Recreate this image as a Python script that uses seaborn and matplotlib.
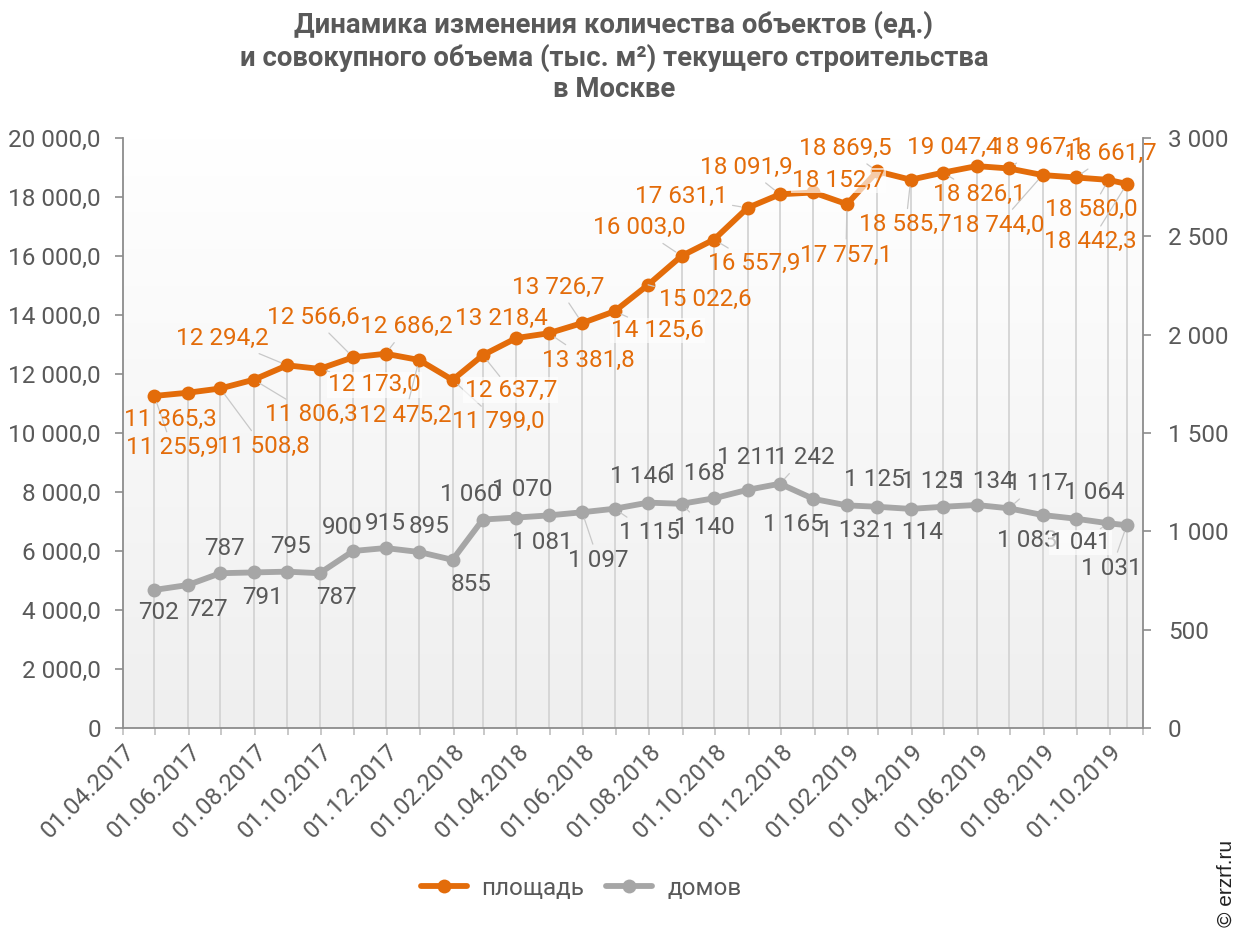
import numpy as np
import pandas as pd
import matplotlib
matplotlib.use("Agg")
import matplotlib.pyplot as plt
import matplotlib.dates as mdates
from matplotlib.ticker import FuncFormatter, MultipleLocator
from matplotlib.lines import Line2D
from matplotlib.colors import LinearSegmentedColormap
import seaborn as sns

# ---------------- data ----------------
dates = pd.to_datetime([
    "2017-04-30", "2017-05-31", "2017-06-30", "2017-07-31", "2017-08-31", "2017-09-30",
    "2017-10-31", "2017-11-30", "2017-12-31", "2018-01-31", "2018-02-28", "2018-03-31",
    "2018-04-30", "2018-05-31", "2018-06-30", "2018-07-31", "2018-08-31", "2018-09-30",
    "2018-10-31", "2018-11-30", "2018-12-31", "2019-01-31", "2019-02-28", "2019-03-31",
    "2019-04-30", "2019-05-31", "2019-06-30", "2019-07-31", "2019-08-31", "2019-09-30",
    "2019-10-17",
])
area = [11255.9, 11365.3, 11508.8, 11806.3, 12294.2, 12173.0, 12566.6, 12686.2, 12475.2,
        11799.0, 12637.7, 13218.4, 13381.8, 13726.7, 14125.6, 15022.6, 16003.0, 16557.9,
        17631.1, 18091.9, 18152.7, 17757.1, 18869.5, 18585.7, 18826.1, 19047.4, 18967.1,
        18744.0, 18661.7, 18580.0, 18442.3]
houses = [702, 727, 787, 791, 795, 787, 900, 915, 895, 855, 1060, 1070, 1081, 1097, 1115,
          1146, 1140, 1168, 1211, 1242, 1165, 1132, 1125, 1114, 1125, 1134, 1117, 1083,
          1064, 1041, 1031]
series_names = ["площадь", "домов"]
title = ("Динамика изменения количества объектов (ед.)\n"
         "и совокупного объема (тыс. м²) текущего строительства\n"
         "в Москве")

# label offsets in pixels (dx right, dy down) - layout only
area_off = [(18, 52), (-17, 27), (43, 58), (58, 35), (-65, -27), (55, 16), (-40, -40),
            (21, -27), (-14, 55), (46, 42), (28, 35), (-15, -20), (40, 27), (-24, -36),
            (43, 19), (57, 15), (-42, -28), (40, 24), (-66, -11), (-34, -27), (25, -12),
            (-1, 51), (-32, -23), (-5, 45), (36, 22), (-23, -19), (29, -21), (-44, 50),
            (34, -24), (-17, 30), (-36, 58)]
houses_off = [(4, 23), (20, 24), (4, -25), (9, 25), (3, -25), (17, 24), (-11, -24),
              (0, -25), (10, -25), (19, 25), (-12, -25), (6, -28), (-6, 27), (16, 48),
              (35, 24), (-8, -26), (23, 24), (-20, -25), (0, -32), (24, -26), (-20, 26),
              (2, 25), (-3, -27), (2, 24), (-12, -25), (7, -23), (28, -25), (-15, 25),
              (18, -26), (-28, 19), (-15, 43)]
area_boxed = {5, 10, 14, 20}
houses_boxed = {29}

ORANGE = "#E36C0A"
GRAY = "#A6A6A6"
TXT = "#595959"
DPI = 100
FS = 17.5

sns.set_theme(style="white")
plt.rcParams["font.family"] = ["Roboto", "DejaVu Sans"]

fig = plt.figure(figsize=(12.43, 9.30), dpi=DPI)
ax = fig.add_axes([123 / 1243, 1 - 728 / 930, (1143 - 123) / 1243, (728 - 138) / 930])
ax2 = ax.twinx()

x0 = pd.Timestamp("2017-04-01")
x1 = pd.Timestamp("2019-11-01")

# gradient background
grad = np.linspace(0, 1, 256).reshape(-1, 1)
cmap = LinearSegmentedColormap.from_list("bg", ["#efefef", "#ffffff"])
ax.imshow(grad, aspect="auto", cmap=cmap, origin="lower",
          extent=[mdates.date2num(x0), mdates.date2num(x1), 0, 20000], zorder=0)

# drop lines
ax.vlines(dates, 0, area, color="#d4d4d4", lw=1.3, zorder=1)

df = pd.DataFrame({"date": dates, "area": area, "houses": houses})
sns.lineplot(data=df, x="date", y="area", ax=ax, color=ORANGE, lw=4.2, marker="o",
             markersize=10, markeredgewidth=0, zorder=3)
sns.lineplot(data=df, x="date", y="houses", ax=ax2, color=GRAY, lw=4.2, marker="o",
             markersize=10, markeredgewidth=0, zorder=3)

ax.set_xlim(x0, x1)
ax.set_ylim(0, 20000)
ax2.set_ylim(0, 3000)

ptk = 72 / DPI


def fmt_num(v, dec):
    if v == 0:
        return "0"
    return f"{v:,.{dec}f}".replace(",", " ").replace(".", ",")


def put_labels(a, vals, offs, boxed, color, dec):
    for i, (d, v) in enumerate(zip(dates, vals)):
        dx, dy = offs[i]
        dist = np.hypot(dx, dy)
        kw = {}
        if dist > 33:
            kw["arrowprops"] = dict(arrowstyle="-", color="#c8c8c8", lw=0.9,
                                    shrinkA=1, shrinkB=5)
        bbox = None
        if i in boxed:
            bbox = dict(boxstyle="square,pad=0.05", fc="white", ec="none", alpha=0.65)
        a.annotate(fmt_num(v, dec), xy=(d, v), xytext=(dx * ptk, -dy * ptk),
                   textcoords="offset points", ha="center", va="center",
                   fontsize=FS, color=color, bbox=bbox, zorder=5, **kw)


put_labels(ax, area, area_off, area_boxed, ORANGE, 1)
put_labels(ax2, houses, houses_off, houses_boxed, TXT, 0)

# axes styling
for a in (ax, ax2):
    for s in a.spines.values():
        s.set_visible(False)
ax.spines["left"].set_visible(True)
ax.spines["bottom"].set_visible(True)
ax2.spines["right"].set_visible(True)
for s in (ax.spines["left"], ax.spines["bottom"], ax2.spines["right"]):
    s.set_color("#8c8c8c")
    s.set_linewidth(1.3)

ax.yaxis.set_major_locator(MultipleLocator(2000))
ax.yaxis.set_major_formatter(FuncFormatter(lambda v, p: fmt_num(v, 1)))
ax2.yaxis.set_major_locator(MultipleLocator(500))
ax2.yaxis.set_major_formatter(FuncFormatter(lambda v, p: fmt_num(v, 0)))
ax.tick_params(axis="y", direction="out", length=6, width=1.2, color="#8c8c8c",
               labelsize=FS, labelcolor=TXT, pad=10, left=True)
ax2.tick_params(axis="y", direction="out", length=6, width=1.2, color="#8c8c8c",
                labelsize=FS, labelcolor=TXT, pad=12, right=True)

ax.xaxis.set_major_locator(mdates.MonthLocator(bymonth=[2, 4, 6, 8, 10, 12]))
ax.xaxis.set_minor_locator(mdates.MonthLocator())
ax.xaxis.set_major_formatter(mdates.DateFormatter("01.%m.%Y"))
ax.tick_params(axis="x", which="both", direction="out", length=5, width=1.2,
               color="#bfbfbf", labelsize=FS, labelcolor=TXT, bottom=True)
for lab in ax.get_xticklabels():
    lab.set_rotation(45)
    lab.set_ha("right")
    lab.set_va("top")
    lab.set_rotation_mode("anchor")
ax.set_xlabel("")
ax.set_ylabel("")
ax2.set_ylabel("")
ax.grid(False)
ax2.grid(False)
ax2.patch.set_visible(False)

fig.text(614 / 1243, 1 - 57 / 930, title, ha="center", va="center", fontsize=19.8,
         fontweight="bold", color=TXT, linespacing=1.22)

handles = [Line2D([], [], color=ORANGE, lw=4.2, marker="o", markersize=10, markeredgewidth=0),
           Line2D([], [], color=GRAY, lw=4.2, marker="o", markersize=10, markeredgewidth=0)]
fig.legend(handles, series_names, loc="center", bbox_to_anchor=(581 / 1243, 1 - 888 / 930),
           ncol=2, frameon=False, fontsize=FS, labelcolor=TXT, handlelength=1.9,
           handletextpad=0.6, columnspacing=0.9)

fig.text(1226 / 1243, 1 - 883 / 930, "© erzrf.ru", rotation=90, ha="center", va="center",
         fontsize=15, color="#222222", family=["Liberation Sans", "DejaVu Sans"])

fig.savefig("out.png", dpi=DPI)
